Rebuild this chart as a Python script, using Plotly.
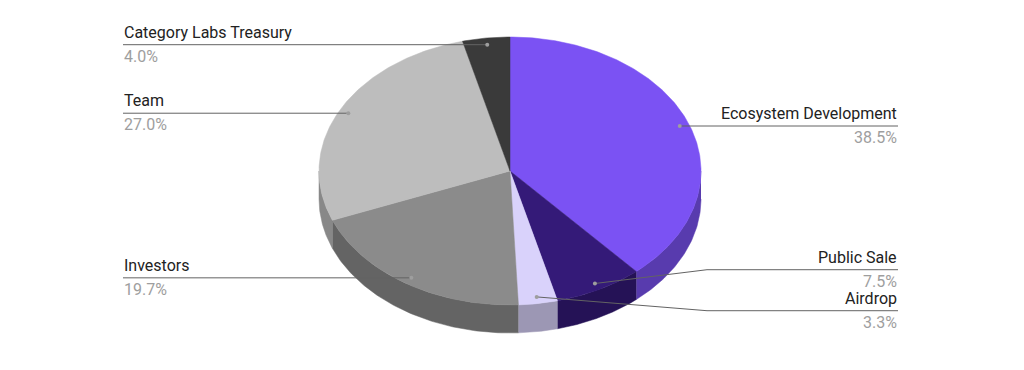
import numpy as np
import plotly.graph_objects as go

# ---- data ----
labels = ["Ecosystem Development", "Public Sale", "Airdrop", "Investors", "Team", "Category Labs Treasury"]
shares = [38.5, 7.5, 3.3, 19.7, 27.0, 4.0]
top_colors = ["#7B52F3", "#341A78", "#D9D2FB", "#8B8B8B", "#BDBDBD", "#3A3A3A"]

# ---- layout constants (pixels) ----
W, H = 1024, 370
CX, CY = 510, 171
RX, RY = 191, 134
DEPTH = 28
DOT_R = 0.95
LEFT_X, RIGHT_X = 123, 898
MIN_GAP = 41
FONT = "Roboto"
FS = 16


def darken(hexc, f=0.72):
    h = hexc.lstrip("#")
    r, g, b = (int(h[i:i + 2], 16) for i in (0, 2, 4))
    return "#%02X%02X%02X" % (int(r * f), int(g * f), int(b * f))


def px(t):
    return CX + RX * np.sin(t)


def py(t):
    return CY - RY * np.cos(t)


fig = go.Figure()

total = sum(shares)
fr = np.array(shares) / total
ends = np.cumsum(fr) * 2 * np.pi
starts = ends - fr * 2 * np.pi

# sides (front half only: angles pi/2 .. 3pi/2)
for s, e, c in zip(starts, ends, top_colors):
    lo, hi = max(s, np.pi / 2), min(e, 3 * np.pi / 2)
    if hi <= lo:
        continue
    t = np.linspace(lo, hi, 80)
    xs = np.concatenate([px(t), px(t[::-1])])
    ys = np.concatenate([py(t), py(t[::-1]) + DEPTH])
    sc = darken(c)
    fig.add_trace(go.Scatter(x=xs, y=ys, mode="lines", fill="toself", fillcolor=sc,
                             line=dict(color=sc, width=0.5), hoverinfo="skip", showlegend=False))

# top faces
for s, e, c in zip(starts, ends, top_colors):
    t = np.linspace(s, e, max(10, int((e - s) * 80)))
    xs = np.concatenate([[CX], px(t), [CX]])
    ys = np.concatenate([[CY], py(t), [CY]])
    fig.add_trace(go.Scatter(x=xs, y=ys, mode="lines", fill="toself", fillcolor=c,
                             line=dict(color=c, width=0.5), hoverinfo="skip", showlegend=False))

# label positions
mids = (starts + ends) / 2
dots_x = CX + RX * DOT_R * np.sin(mids)
dots_y = CY - RY * DOT_R * np.cos(mids)
side = np.where(np.sin(mids) > 0, 1, -1)


def resolve(ys):
    order = np.argsort(ys)
    groups = [[i] for i in order]
    changed = True
    pos = {}
    while changed:
        changed = False
        placed = []
        for g in groups:
            mean = np.mean([ys[i] for i in g])
            first = mean - MIN_GAP * (len(g) - 1) / 2
            placed.append((g, first))
        merged = [placed[0]]
        for g, first in placed[1:]:
            pg, pfirst = merged[-1]
            if first < pfirst + MIN_GAP * len(pg):
                merged[-1] = (pg + g, None)
                changed = True
            else:
                merged.append((g, first))
        groups = [g for g, _ in merged]
    for g in groups:
        mean = np.mean([ys[i] for i in g])
        first = mean - MIN_GAP * (len(g) - 1) / 2
        for k, i in enumerate(g):
            pos[i] = first + k * MIN_GAP
    return pos


label_y = np.zeros(len(labels))
for sd in (1, -1):
    idx = [i for i in range(len(labels)) if side[i] == sd]
    pos = resolve([dots_y[i] for i in idx])
    for k, i in enumerate(idx):
        label_y[i] = pos[k]

annotations = []
for i, name in enumerate(labels):
    ly = label_y[i]
    if side[i] > 0:
        lx, elbow, anchor = RIGHT_X, CX + RX + 6, "right"
    else:
        lx, elbow, anchor = LEFT_X, CX - RX - 6, "left"
    fig.add_trace(go.Scatter(x=[lx, elbow, dots_x[i]], y=[ly, ly, dots_y[i]], mode="lines",
                             line=dict(color="#636363", width=1), hoverinfo="skip", showlegend=False))
    fig.add_trace(go.Scatter(x=[dots_x[i]], y=[dots_y[i]], mode="markers",
                             marker=dict(size=4, color="#9E9E9E"), hoverinfo="skip", showlegend=False))
    annotations.append(dict(x=lx, y=ly - 2, xref="x", yref="y", text=name, showarrow=False,
                            xanchor=anchor, yanchor="bottom", borderpad=0,
                            font=dict(family=FONT, size=FS, color="#222222")))
    annotations.append(dict(x=lx, y=ly + 1, xref="x", yref="y", text=f"{shares[i]:.1f}%", showarrow=False,
                            xanchor=anchor, yanchor="top", borderpad=0,
                            font=dict(family=FONT, size=FS, color="#9E9E9E")))

fig.update_layout(
    width=W, height=H, margin=dict(l=0, r=0, t=0, b=0),
    paper_bgcolor="white", plot_bgcolor="white",
    xaxis=dict(range=[0, W], visible=False, fixedrange=True),
    yaxis=dict(range=[H, 0], visible=False, fixedrange=True),
    annotations=annotations, showlegend=False,
)
fig.write_html("out.html", config={"displayModeBar": False})
